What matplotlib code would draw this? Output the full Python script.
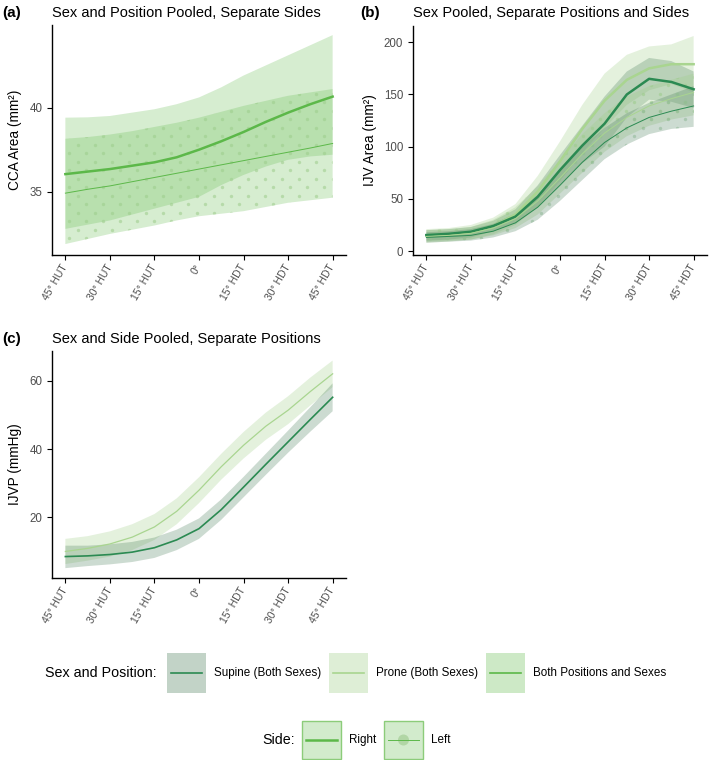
import numpy as np
import matplotlib
matplotlib.use("Agg")
import matplotlib.pyplot as plt
from matplotlib.patches import Rectangle, Circle

plt.rcParams['font.family'] = ['Liberation Sans', 'DejaVu Sans']

# ---------------- data ----------------
angles = [-45, -37.5, -30, -22.5, -15, -7.5, 0, 7.5, 15, 22.5, 30, 37.5, 45]
tick_pos = [-45, -30, -15, 0, 15, 30, 45]
tick_labels = ['45° HUT', '30° HUT', '15° HUT', '0°', '15° HDT', '30° HDT', '45° HDT']

# (a) CCA area, both positions and sexes
cca_right = [36.05, 36.2, 36.35, 36.55, 36.75, 37.05, 37.5, 38.0, 38.55, 39.15, 39.7, 40.2, 40.65]
cca_right_hi = [39.4, 39.42, 39.5, 39.7, 39.9, 40.2, 40.6, 41.2, 41.9, 42.5, 43.1, 43.7, 44.3]
cca_right_lo = [32.8, 33.05, 33.3, 33.65, 34.0, 34.35, 34.7, 35.4, 36.0, 36.5, 36.9, 37.1, 37.2]
cca_left = [34.92, 35.15, 35.35, 35.6, 35.85, 36.1, 36.35, 36.6, 36.85, 37.1, 37.35, 37.6, 37.87]
cca_left_hi = [38.15, 38.25, 38.4, 38.6, 38.85, 39.1, 39.4, 39.75, 40.1, 40.4, 40.7, 40.9, 41.1]
cca_left_lo = [31.9, 32.2, 32.5, 32.75, 33.0, 33.3, 33.55, 33.7, 33.85, 34.1, 34.35, 34.5, 34.65]

# (b) IJV area, separate positions and sides
ijv_sup_right = [15.3, 16.5, 18.5, 24, 33, 52, 77.6, 101, 122, 150, 165, 162, 155]
ijv_sup_right_hi = [20, 21, 23, 29, 40, 63, 92, 120, 148, 172, 185, 182, 172]
ijv_sup_right_lo = [10, 11, 13, 19, 27, 42, 63, 84, 100, 128, 145, 143, 137]
ijv_pro_right = [15, 16, 18, 24, 35, 57, 86, 117, 144, 164, 175, 179, 179]
ijv_pro_right_hi = [21, 22, 25, 32, 45, 72, 105, 140, 170, 188, 196, 198, 206]
ijv_pro_right_lo = [9, 10, 11, 16, 25, 42, 67, 94, 118, 140, 154, 160, 152]
ijv_sup_left = [13, 14, 15, 19, 27, 42, 63, 85, 104, 118, 128, 134, 139]
ijv_sup_left_hi = [18, 19, 21, 26, 36, 54, 77, 100, 118, 132, 142, 150, 158]
ijv_sup_left_lo = [8, 9, 10, 13, 19, 30, 48, 68, 88, 102, 112, 117, 119]
ijv_pro_left = [14, 15, 17, 22, 31, 48, 70, 93, 113, 128, 139, 146, 152]
ijv_pro_left_hi = [20, 21, 23, 30, 42, 62, 87, 112, 132, 148, 158, 164, 170]
ijv_pro_left_lo = [8, 9, 11, 15, 22, 35, 55, 75, 95, 110, 120, 126, 130]

# (c) IJVP, separate positions
ijvp_sup = [8.4, 8.6, 9.0, 9.7, 11.0, 13.3, 16.6, 22.2, 28.8, 35.5, 42.1, 48.7, 55.2]
ijvp_sup_hi = [11.6, 11.6, 12.0, 12.7, 14.0, 16.3, 19.6, 25.2, 31.8, 38.6, 45.4, 52.3, 59.3]
ijvp_sup_lo = [5.0, 5.6, 6.1, 6.8, 8.0, 10.3, 13.6, 19.2, 25.8, 32.4, 38.9, 45.1, 51.1]
ijvp_pro = [9.9, 10.8, 12.1, 14.1, 17.1, 21.7, 27.9, 34.8, 41.1, 46.7, 51.4, 56.9, 62.1]
ijvp_pro_hi = [13.6, 14.4, 15.8, 17.9, 20.9, 25.5, 31.7, 38.6, 45.0, 50.7, 55.5, 61.0, 66.0]
ijvp_pro_lo = [6.2, 7.2, 8.4, 10.3, 13.3, 17.9, 24.1, 31.0, 37.2, 42.7, 47.3, 52.8, 58.2]

group_labels = ['Supine (Both Sexes)', 'Prone (Both Sexes)', 'Both Positions and Sexes']
side_labels = ['Right', 'Left']

# ---------------- styles ----------------
col_sup, fill_sup = '#2b8a52', '#4a7f5a'
col_pro, fill_pro = '#a9d590', '#9fcf86'
col_both, fill_both = '#5cb849', '#6cbf58'
band_alpha = 0.28
lw_thick, lw_thin = 1.8, 0.7

W, H = 709, 760
fig = plt.figure(figsize=(W / 100, H / 100), dpi=100)


def add_ax(l, t, r, b):
    return fig.add_axes([l / W, 1 - b / H, (r - l) / W, (b - t) / H])


def style(ax, ylabel, yticks, ylim):
    ax.set_xlim(-49.5, 49.5)
    ax.set_ylim(*ylim)
    for s in ['top', 'right']:
        ax.spines[s].set_visible(False)
    for s in ['left', 'bottom']:
        ax.spines[s].set_linewidth(1.0)
    ax.set_xticks(tick_pos)
    ax.set_xticklabels(tick_labels, rotation=60, ha='right', va='center',
                       rotation_mode='anchor', fontsize=7.5, color='#4d4d4d')
    ax.set_yticks(yticks)
    ax.tick_params(axis='y', labelsize=8.3, labelcolor='#4d4d4d', length=3.5, width=0.8)
    ax.tick_params(axis='x', length=3.5, width=0.8, pad=4)
    ax.set_ylabel(ylabel, fontsize=9.8, labelpad=5)


def dots(ax, poly, color):
    # dotted pattern of the "Left" ribbons, clipped to the ribbon
    bb = ax.bbox
    dx, dy = 17.0, 8.5
    rows = np.arange(0, bb.height + dy, dy)
    xs, ys = [], []
    for i, r in enumerate(rows):
        cols = np.arange((i % 2) * dx / 2, bb.width + dx, dx)
        xs.extend(cols / bb.width)
        ys.extend([r / bb.height] * len(cols))
    sc = ax.scatter(xs, ys, s=6, color=color, alpha=0.55, linewidths=0,
                    transform=ax.transAxes, zorder=2)
    sc.set_clip_path(poly.get_paths()[0], ax.transData)


def band(ax, lo, hi, fc, dotted=False, dot_col=None):
    p = ax.fill_between(angles, lo, hi, facecolor=fc, alpha=band_alpha,
                        linewidth=0, zorder=1)
    if dotted:
        dots(ax, p, dot_col)
    return p


# ---------------- (a) ----------------
ax = add_ax(52, 25, 346, 255)
band(ax, cca_right_lo, cca_right_hi, fill_both)
band(ax, cca_left_lo, cca_left_hi, fill_both, True, '#9ccc8a')
ax.plot(angles, cca_right, color=col_both, lw=lw_thick, zorder=3)
ax.plot(angles, cca_left, color=col_both, lw=lw_thin, zorder=3)
style(ax, 'CCA Area (mm²)', [35, 40], (31.25, 44.9))

# ---------------- (b) ----------------
ax = add_ax(413, 26, 707, 255)
band(ax, ijv_pro_right_lo, ijv_pro_right_hi, fill_pro)
band(ax, ijv_sup_right_lo, ijv_sup_right_hi, fill_sup)
band(ax, ijv_pro_left_lo, ijv_pro_left_hi, fill_pro, True, '#9ccc8a')
band(ax, ijv_sup_left_lo, ijv_sup_left_hi, fill_sup, True, '#8fb896')
ax.plot(angles, ijv_pro_right, color=col_pro, lw=lw_thick, zorder=3)
ax.plot(angles, ijv_sup_right, color=col_sup, lw=lw_thick, zorder=3)
ax.plot(angles, ijv_pro_left, color=col_pro, lw=lw_thin, zorder=3)
ax.plot(angles, ijv_sup_left, color=col_sup, lw=lw_thin, zorder=3)
style(ax, 'IJV Area (mm²)', [0, 50, 100, 150, 200], (-3.8, 215.6))

# ---------------- (c) ----------------
ax = add_ax(52, 351, 346, 578)
band(ax, ijvp_pro_lo, ijvp_pro_hi, fill_pro)
band(ax, ijvp_sup_lo, ijvp_sup_hi, fill_sup)
ax.plot(angles, ijvp_pro, color=col_pro, lw=lw_thin + 0.2, zorder=3)
ax.plot(angles, ijvp_sup, color=col_sup, lw=lw_thin + 0.5, zorder=3)
style(ax, 'IJVP (mmHg)', [20, 40, 60], (2.1, 68.8))

# ---------------- titles ----------------
for tag, tx, title_x, ty, title in [('(a)', 2, 52, 13, 'Sex and Position Pooled, Separate Sides'),
                                    ('(b)', 360, 413, 13, 'Sex Pooled, Separate Positions and Sides'),
                                    ('(c)', 2, 52, 339, 'Sex and Side Pooled, Separate Positions')]:
    fig.text(tx / W, 1 - ty / H, tag, fontsize=11, fontweight='bold', va='center')
    fig.text(title_x / W, 1 - ty / H, title, fontsize=10.5, va='center')

# ---------------- legend (drawn in figure pixels) ----------------
lax = fig.add_axes([0, 0, 1, 1])
lax.set_xlim(0, W)
lax.set_ylim(H, 0)
lax.axis('off')

lax.text(45, 673, 'Sex and Position:', fontsize=10.3, va='center')
for x0, fc, lc, lab in zip([167, 329, 486], [fill_sup, fill_pro, fill_both],
                           [col_sup, col_pro, col_both], group_labels):
    lax.add_patch(Rectangle((x0, 653), 39, 40, facecolor=fc, alpha=band_alpha * 1.2, lw=0))
    lax.plot([x0 + 4, x0 + 35], [673, 673], color=lc, lw=1.2)
    lax.text(x0 + 47, 673, lab, fontsize=8.4, va='center')

lax.text(262, 740, 'Side:', fontsize=10.3, va='center')
for x0, lw, lab, dotted in zip([302, 384], [lw_thick, lw_thin], side_labels, [False, True]):
    lax.add_patch(Rectangle((x0, 721), 39, 38, facecolor=fill_both, alpha=0.3,
                            edgecolor='none'))
    lax.add_patch(Rectangle((x0, 721), 39, 38, facecolor='none', edgecolor='#8ccc7a', lw=1.0))
    lax.plot([x0 + 4, x0 + 35], [740, 740], color=col_both, lw=lw)
    if dotted:
        lax.add_patch(Circle((x0 + 19.5, 740), 5.5, facecolor='#9cc88c', alpha=0.6, lw=0))
    lax.text(x0 + 47, 740, lab, fontsize=8.4, va='center')

fig.savefig('out.png', dpi=100)
